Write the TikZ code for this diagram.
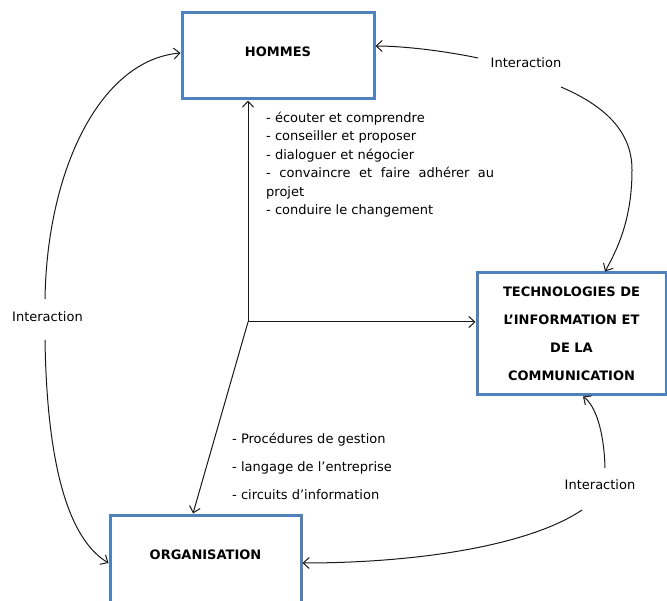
\documentclass[tikz,border=0pt]{standalone}
\usepackage{fontspec}
\setmainfont{DejaVu Sans}
\usetikzlibrary{arrows.meta,calc}
\definecolor{boxblue}{HTML}{4F81BD}
\begin{document}
\begin{tikzpicture}[x=1pt,y=-1pt,
  box/.style={draw=boxblue, line width=3pt, fill=white, font=\fontsize{13}{28}\selectfont\bfseries, align=center, inner sep=0pt},
  conn/.style={draw=black!90, line width=1pt, -{Straight Barb[length=6pt,width=11pt]}},
  lbl/.style={font=\fontsize{13}{16}\selectfont, inner sep=0pt},
  lst/.style={font=\fontsize{13}{18.4}\selectfont, inner sep=0pt, anchor=north west, align=left}
]
\useasboundingbox (0,0) rectangle (667,601);
\clip (0,0) rectangle (667,601);

\node[box, minimum width=192pt, minimum height=86pt, text depth=8pt] (hom) at (278,56) {HOMMES};
\node[box, minimum width=189pt, minimum height=122pt] (tic) at (571.5,334) {TECHNOLOGIES DE\\L’INFORMATION ET\\DE LA\\COMMUNICATION};
\node[box, minimum width=191pt, minimum height=90pt, text depth=10pt] (org) at (205.5,560) {ORGANISATION};

\coordinate (j) at (248,322);
\draw[conn] (j) -- (j |- hom.south);
\draw[conn] (j) -- (j -| tic.west);
\draw[conn] (j) -- ($(org.north)+(-12.5,0)$);

\node[lbl] (il) at (47.5,317) {Interaction};
\node[lbl] (ir1) at (526,63) {Interaction};
\node[lbl] (ir2) at (600,485) {Interaction};

\draw[conn] ($(il)+(-2.5,-18)$) .. controls (47,170) and (100,60) .. ($(hom.west)+(0,-3)$);
\draw[conn] ($(il)+(-2.5,23)$) .. controls (47,470) and (70,540) .. ($(org.west)+(0,3)$);
\draw[conn] ($(ir1)+(-48,-5)$) .. controls (440,50) and (400,46) .. ($(hom.east)+(0,-10)$);
\draw[conn] ($(ir1)+(35,24)$) .. controls (610,108) and (632,135) .. (632,170) .. controls (632,215) and (620,245) .. ($(tic.north)+(33.5,0)$);
\draw[conn] ($(ir2)+(5,-17)$) .. controls (604,430) and (595,405) .. ($(tic.south)+(11.5,0)$);
\draw[conn] ($(ir2)+(-18,25)$) .. controls (530,545) and (420,563) .. ($(org.east)+(0,3)$);

\node[lst] (l1) at (266,112) {- écouter et comprendre\\- conseiller et proposer\\- dialoguer et négocier\\\makebox[228pt][s]{- convaincre et faire adhérer au}\\projet\\- conduire le changement};
\node[lst, font=\fontsize{13}{28}\selectfont] (l2) at (232,433) {- Procédures de gestion\\- langage de l’entreprise\\- circuits d’information};
\end{tikzpicture}
\end{document}
